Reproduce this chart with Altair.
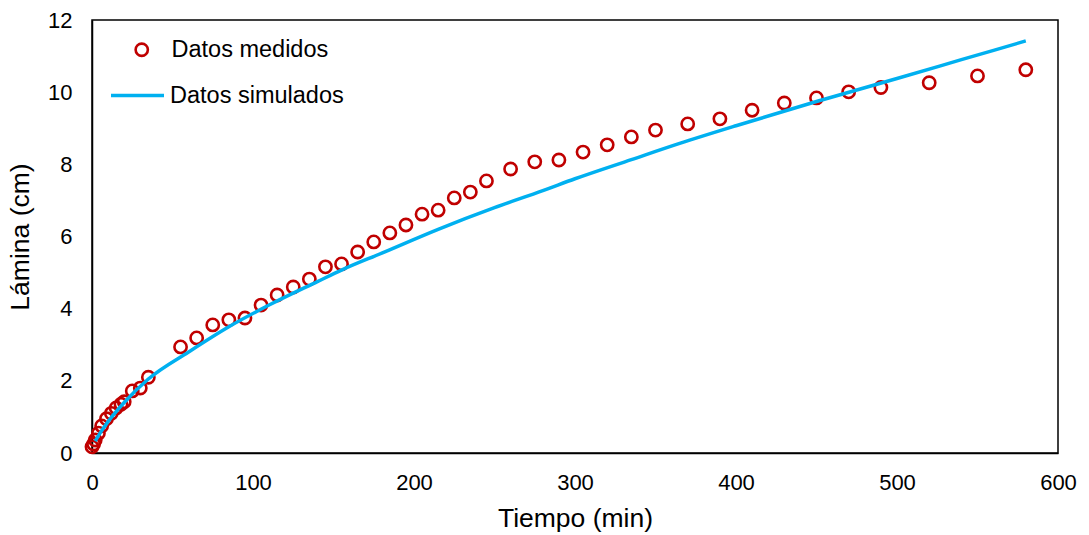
import altair as alt
import pandas as pd

# Measured infiltration depth (Lámina, cm) over time (min)
tiempo_medido = [0, 1, 2, 4, 6, 9, 12, 15, 18, 20, 25, 30, 35, 55, 65, 75, 85, 95,
                 105, 115, 125, 135, 145, 155, 165, 175, 185, 195, 205, 215, 225,
                 235, 245, 260, 275, 290, 305, 320, 335, 350, 370, 390, 410, 430,
                 450, 470, 490, 520, 550, 580]
lamina_medida = [0.17, 0.25, 0.36, 0.55, 0.75, 0.95, 1.1, 1.25, 1.35, 1.42, 1.72,
                 1.8, 2.1, 2.94, 3.19, 3.55, 3.69, 3.74, 4.1, 4.38, 4.6, 4.82, 5.16,
                 5.24, 5.57, 5.85, 6.1, 6.32, 6.62, 6.73, 7.07, 7.23, 7.54, 7.87,
                 8.07, 8.12, 8.34, 8.54, 8.76, 8.95, 9.12, 9.26, 9.5, 9.7, 9.84,
                 10.01, 10.13, 10.26, 10.45, 10.62]

# Simulated curve
tiempo_simulado = [2, 5, 10, 20, 35, 60, 85, 110, 140, 155, 180, 215, 250, 280,
                   300, 335, 365, 400, 450, 500, 540, 580]
lamina_simulada = [0.33, 0.55, 0.87, 1.4, 2.05, 2.8, 3.5, 4.1, 4.75, 5.07, 5.54,
                   6.2, 6.8, 7.27, 7.6, 8.13, 8.58, 9.07, 9.74, 10.38, 10.9, 11.42]

x_ticks = [0, 100, 200, 300, 400, 500, 600]
y_ticks = [0, 2, 4, 6, 8, 10, 12]

FONT = "Liberation Sans"

medidos = pd.DataFrame({"t": tiempo_medido, "l": lamina_medida,
                        "serie": "Datos medidos"})
simulados = pd.DataFrame({"t": tiempo_simulado, "l": lamina_simulada,
                          "serie": "Datos simulados"})

x_enc = alt.X("t:Q", scale=alt.Scale(domain=[0, 600], nice=False),
              axis=alt.Axis(values=x_ticks, title="Tiempo (min)", grid=False,
                            tickSize=0, labelPadding=19, titlePadding=12,
                            labelFlush=False,
                            domainColor="black", domainWidth=1.5))
y_enc = alt.Y("l:Q", scale=alt.Scale(domain=[0, 12], nice=False),
              axis=alt.Axis(values=y_ticks, title="Lámina (cm)", grid=False,
                            tickSize=0, labelPadding=20, titlePadding=13,
                            labelFlush=False,
                            domainColor="black", domainWidth=1.5))

puntos = alt.Chart(medidos).mark_point(
    shape="circle", filled=False, size=150, strokeWidth=2.6, opacity=1
).encode(
    x=x_enc, y=y_enc,
    color=alt.Color("serie:N",
                    scale=alt.Scale(domain=["Datos medidos"], range=["#C00000"]),
                    legend=alt.Legend(title=None, orient="none", legendX=38,
                                      legendY=18, symbolType="circle",
                                      symbolSize=150, symbolStrokeWidth=2.6,
                                      labelFontSize=23.5, labelFont=FONT,
                                      labelLimit=0,
                                      labelColor="black", labelOffset=18))
)

linea = alt.Chart(simulados).mark_line(
    color="#00B0F0", strokeWidth=3.5, interpolate="monotone"
).encode(
    x=x_enc, y=y_enc,
    stroke=alt.Stroke("serie:N",
                      scale=alt.Scale(domain=["Datos simulados"], range=["#00B0F0"]),
                      legend=alt.Legend(title=None, orient="none", legendX=17,
                                        legendY=47, symbolType="stroke",
                                        symbolSize=2809, symbolStrokeWidth=3.5,
                                        labelFontSize=23.5, labelFont=FONT,
                                        labelLimit=0,
                                        labelColor="black", labelOffset=4))
)

chart = alt.layer(puntos, linea).resolve_scale(
    color="independent", stroke="independent"
).resolve_legend(
    color="independent", stroke="independent"
).properties(
    width=966, height=433,
    autosize=alt.AutoSizeParams(type="none"),
    padding={"left": 92, "top": 20, "right": 31, "bottom": 82},
).configure_view(
    stroke="black", strokeWidth=1.5
).configure_axis(
    labelFont=FONT, titleFont=FONT, labelFontSize=22, titleFontSize=26.5,
    labelColor="black", titleColor="black", titleFontWeight="normal"
)

chart.save("out.html", embed_options={"renderer": "svg", "actions": False})
